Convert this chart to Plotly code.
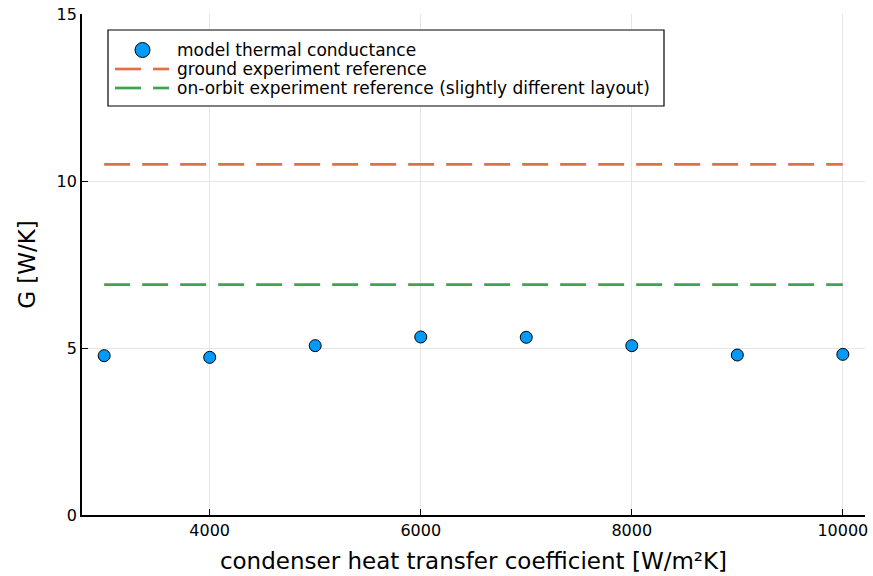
import plotly.graph_objects as go

# condenser heat transfer coefficient [W/m²K] and modelled conductance G [W/K]
h_cond = [3000, 4000, 5000, 6000, 7000, 8000, 9000, 10000]
g_model = [4.77, 4.72, 5.07, 5.33, 5.32, 5.07, 4.79, 4.81]

# experimental reference values [W/K]
g_ground = 10.5
g_orbit = 6.9

x_ticks = [4000, 6000, 8000, 10000]
y_ticks = [0, 5, 10, 15]

series_names = [
    "model thermal conductance",
    "ground experiment reference",
    "on-orbit experiment reference (slightly different layout)",
]

BLUE = "#009AFA"
ORANGE = "#E26F46"
GREEN = "#3EA44E"
FONT = "DejaVu Sans"
DASH = "26px,12px"

W, H = 873, 576
ML, MR, MT, MB = 82, 8, 14, 61
PW, PH = W - ML - MR, H - MT - MB


def px(x):
    return (x - ML) / PW


def py(y):
    return (H - MB - y) / PH


fig = go.Figure()

fig.add_trace(go.Scatter(
    x=h_cond, y=g_model, mode="markers", name=series_names[0],
    marker=dict(size=12, color=BLUE, line=dict(color="black", width=1)),
    showlegend=False,
))
fig.add_trace(go.Scatter(
    x=[h_cond[0], h_cond[-1]], y=[g_ground, g_ground], mode="lines",
    name=series_names[1], line=dict(color=ORANGE, width=2.7, dash=DASH),
    showlegend=False,
))
fig.add_trace(go.Scatter(
    x=[h_cond[0], h_cond[-1]], y=[g_orbit, g_orbit], mode="lines",
    name=series_names[2], line=dict(color=GREEN, width=2.7, dash=DASH),
    showlegend=False,
))

# legend box drawn in the upper-left corner of the plot area
shapes = [dict(
    type="rect", xref="paper", yref="paper",
    x0=px(108), x1=px(664), y0=py(106), y1=py(30),
    line=dict(color="black", width=1.2), fillcolor="white", layer="above",
)]
annotations = []
row_y = [50, 69, 88]
# circle sample for the scatter series
shapes.append(dict(
    type="circle", xref="paper", yref="paper",
    x0=px(135), x1=px(150), y0=py(57.5), y1=py(42.5),
    line=dict(color="black", width=1), fillcolor=BLUE, layer="above",
))
for yy, col in zip(row_y[1:], [ORANGE, GREEN]):
    for a, b in [(115, 141), (153, 169)]:
        shapes.append(dict(
            type="line", xref="paper", yref="paper",
            x0=px(a), x1=px(b), y0=py(yy), y1=py(yy),
            line=dict(color=col, width=2.7), layer="above",
        ))
for yy, name in zip(row_y, series_names):
    annotations.append(dict(
        x=px(175), y=py(yy), xref="paper", yref="paper",
        text=name, showarrow=False, xanchor="left", yanchor="middle",
        font=dict(family=FONT, size=17, color="black"),
    ))

span = h_cond[-1] - h_cond[0]
fig.update_layout(
    width=W, height=H,
    margin=dict(l=ML, r=MR, t=MT, b=MB),
    paper_bgcolor="white", plot_bgcolor="white",
    font=dict(family=FONT, size=16, color="black"),
    showlegend=False,
    shapes=shapes,
    annotations=annotations,
    xaxis=dict(
        range=[h_cond[0] - 0.03 * span, h_cond[-1] + 0.03 * span],
        tickvals=x_ticks, ticktext=[str(v) for v in x_ticks],
        ticks="inside", ticklen=6, tickwidth=1.2, tickcolor="black",
        showline=True, linecolor="black", linewidth=1.8,
        showgrid=True, gridcolor="#e6e6e6", gridwidth=1,
        zeroline=False, mirror=False, automargin=False,
        title=dict(text="condenser heat transfer coefficient [W/m²K]",
                   font=dict(family=FONT, size=23), standoff=14),
        tickfont=dict(family=FONT, size=16),
    ),
    yaxis=dict(
        range=[0, 15],
        tickvals=y_ticks, ticktext=[str(v) for v in y_ticks],
        ticks="inside", ticklen=6, tickwidth=1.2, tickcolor="black",
        showline=True, linecolor="black", linewidth=1.8,
        showgrid=True, gridcolor="#e6e6e6", gridwidth=1,
        zeroline=False, mirror=False, automargin=False,
        title=dict(text="G [W/K]", font=dict(family=FONT, size=23), standoff=14),
        tickfont=dict(family=FONT, size=16),
    ),
)

fig.write_html("out.html")
